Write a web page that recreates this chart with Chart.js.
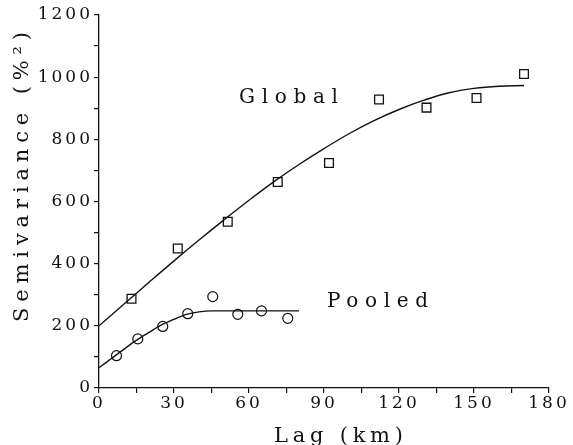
<!DOCTYPE html>
<html>
<head>
<meta charset="utf-8">
<script src="https://cdn.jsdelivr.net/npm/chart.js@4"></script>
<style>
html,body{margin:0;padding:0;background:#fff;}
#wrap{width:573px;height:445px;position:relative;}
</style>
</head>
<body>
<div id="wrap"><canvas id="c"></canvas></div>
<script>
// Observed semivariances
const globalLag = [13, 31.5, 51.5, 71.5, 92, 112, 131, 151, 170];
const globalVal = [287, 449, 535, 663, 724, 928, 902, 933, 1010];
const pooledLag = [7, 15.5, 25.5, 35.5, 45.5, 55.5, 65, 75.5];
const pooledVal = [104, 158, 198, 239, 294, 237, 248, 224];
// Fitted model curves
const globalFitLag = [0, 10, 20, 30, 40, 50, 60, 70, 80, 90, 100, 110, 120, 130, 140, 150, 160, 170];
const globalFitVal = [200, 270, 340, 409, 476, 541, 604, 664, 719, 770, 818, 860, 896, 926, 950, 964, 971, 973];
const pooledFitLag = [0, 5, 10, 15, 20, 25, 30, 35, 40, 45, 50, 60, 70, 80];
const pooledFitVal = [65, 95, 125, 154, 179, 203, 221, 237, 245, 248, 248, 248, 248, 248];
// Axes
const xTicksMajor = [0, 30, 60, 90, 120, 150, 180];
const yTicksMajor = [0, 200, 400, 600, 800, 1000, 1200];
const xTitle = 'Lag (km)';
const yTitle = 'Semivariance (%\u00B2)';
const seriesNames = ['Global', 'Pooled'];

const pts = (xs, ys) => xs.map((x, i) => ({x: x, y: ys[i]}));
const FONT = "'DejaVu Serif', serif";
const TICK_SPACING = '3px';

// draw text left-aligned so that it spans a given width
function spanText(ctx, text, x, y, span) {
  ctx.letterSpacing = '0px';
  const w0 = ctx.measureText(text).width;
  const n = [...text].length;
  const s = (span - w0) / (n - 1);
  ctx.letterSpacing = s + 'px';
  ctx.textAlign = 'left';
  ctx.fillText(text, x, y);
}

const textPlugin = {
  id: 'texts',
  beforeLayout(chart) { chart.ctx.letterSpacing = TICK_SPACING; },
  beforeDraw(chart) { chart.ctx.letterSpacing = TICK_SPACING; },
  afterDraw(chart) {
    const ctx = chart.ctx;
    ctx.save();
    ctx.fillStyle = '#111';
    ctx.textBaseline = 'alphabetic';
    ctx.font = '20px ' + FONT;
    spanText(ctx, seriesNames[0], 239, 103, 99);
    spanText(ctx, seriesNames[1], 327, 307, 101);
    // x title
    ctx.font = '21px ' + FONT;
    spanText(ctx, xTitle, 274, 442, 129);
    // y title
    ctx.translate(28, 322);
    ctx.rotate(-Math.PI / 2);
    ctx.font = '21px ' + FONT;
    spanText(ctx, yTitle, 0, 0, 290);
    ctx.restore();
  }
};

new Chart(document.getElementById('c'), {
  type: 'scatter',
  data: {
    datasets: [
      { label: 'GlobalFit', data: pts(globalFitLag, globalFitVal), showLine: true, pointRadius: 0,
        borderColor: '#111', borderWidth: 1.4, tension: 0.4, fill: false },
      { label: 'PooledFit', data: pts(pooledFitLag, pooledFitVal), showLine: true, pointRadius: 0,
        borderColor: '#111', borderWidth: 1.4, cubicInterpolationMode: 'monotone', fill: false },
      { label: seriesNames[0], data: pts(globalLag, globalVal), pointStyle: 'rect', pointRadius: 6.2,
        borderColor: '#111', borderWidth: 1.3, backgroundColor: 'rgba(0,0,0,0)' },
      { label: seriesNames[1], data: pts(pooledLag, pooledVal), pointStyle: 'circle', pointRadius: 5,
        borderColor: '#111', borderWidth: 1.2, backgroundColor: 'rgba(0,0,0,0)' }
    ]
  },
  options: {
    responsive: true,
    maintainAspectRatio: false,
    animation: false,
    events: [],
    layout: { padding: { top: 15, right: 24, bottom: 0, left: 0 } },
    plugins: { legend: { display: false }, tooltip: { enabled: false } },
    scales: {
      x: {
        type: 'linear', min: 0, max: 180,
        afterFit(s) { s.height = 57; },
        border: { color: '#111', width: 1.3 },
        grid: { drawOnChartArea: false, drawTicks: true, tickLength: 5, color: '#111', lineWidth: 1.2 },
        ticks: { stepSize: 15, padding: 0, color: '#111', maxRotation: 0, autoSkip: false,
          font: { family: FONT, size: 17 },
          callback: v => xTicksMajor.includes(v) ? String(v) : '' }
      },
      y: {
        type: 'linear', min: 0, max: 1200,
        afterFit(s) { s.width = 99; },
        border: { color: '#111', width: 1.3 },
        grid: { drawOnChartArea: false, drawTicks: true, tickLength: 5, color: '#111', lineWidth: 1.2 },
        ticks: { stepSize: 100, padding: 1, color: '#111', autoSkip: false,
          font: { family: FONT, size: 17 },
          callback: v => yTicksMajor.includes(v) ? String(v) : '' }
      }
    }
  },
  plugins: [textPlugin]
});
</script>
</body>
</html>
